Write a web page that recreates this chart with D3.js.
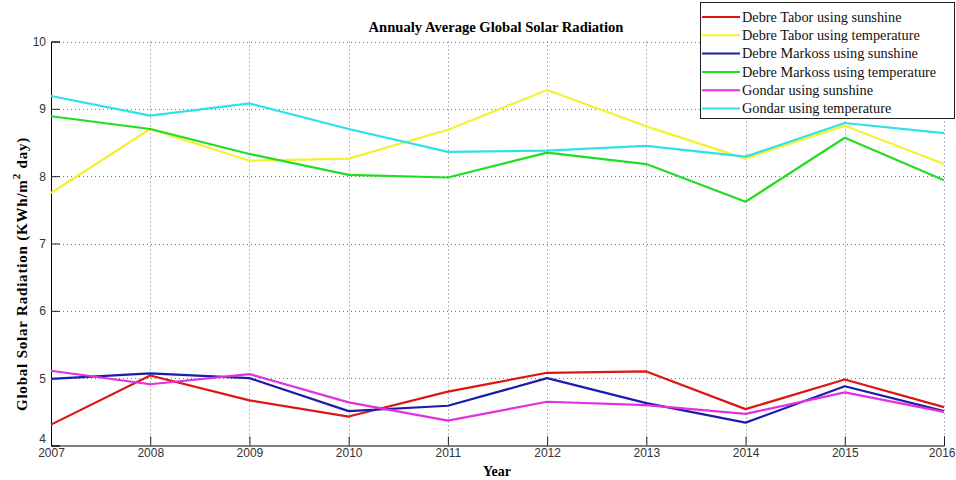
<!DOCTYPE html>
<html><head><meta charset="utf-8">
<script src="https://cdn.jsdelivr.net/npm/d3@7"></script>
<style>body{margin:0;background:#fff}svg{display:block}</style>
</head><body>
<script>
const years = [2007,2008,2009,2010,2011,2012,2013,2014,2015,2016];
const yTicks = [4,5,6,7,8,9,10];
const seriesNames = ["Debre Tabor using sunshine","Debre Tabor using temperature","Debre Markoss using sunshine","Debre Markoss using temperature","Gondar using sunshine","Gondar using temperature"];
const seriesColors = ["#dd1515","#f2f230","#1c1ca8","#22dd22","#e030e0","#30e0e8"];
const debreTaborSunshine = [4.31,5.04,4.67,4.43,4.80,5.08,5.10,4.54,4.98,4.57];
const debreTaborTemperature = [7.75,8.70,8.23,8.26,8.69,9.28,8.74,8.26,8.75,8.18];
const debreMarkossSunshine = [4.99,5.07,5.00,4.51,4.59,5.00,4.63,4.34,4.88,4.51];
const debreMarkossTemperature = [8.89,8.70,8.33,8.02,7.98,8.35,8.18,7.62,8.57,7.94];
const gondarSunshine = [5.11,4.91,5.06,4.64,4.37,4.65,4.60,4.47,4.79,4.50];
const gondarTemperature = [9.19,8.90,9.08,8.70,8.36,8.38,8.45,8.29,8.79,8.64];
const seriesValues = [debreTaborSunshine,debreTaborTemperature,debreMarkossSunshine,debreMarkossTemperature,gondarSunshine,gondarTemperature];

const W=956,H=480, L=51,R=944,T=41.5,B=445.5;
const svg=d3.select("body").append("svg").attr("width",W).attr("height",H);
svg.append("rect").attr("width",W).attr("height",H).attr("fill","#fff");
const x=d3.scaleLinear().domain([2007,2016]).range([L,R]);
const y=d3.scaleLinear().domain([4,10]).range([B,T]);

// grid
const g=svg.append("g");
g.selectAll(".gx").data(years.slice(1)).join("line")
 .attr("x1",d=>Math.round(x(d))+0.5).attr("x2",d=>Math.round(x(d))+0.5).attr("y1",T).attr("y2",B)
 .attr("stroke","#777").attr("stroke-width",1).attr("stroke-dasharray","1,3");
g.selectAll(".gy").data(yTicks.slice(1)).join("line")
 .attr("x1",L).attr("x2",R).attr("y1",d=>Math.round(y(d))+0.5).attr("y2",d=>Math.round(y(d))+0.5)
 .attr("stroke","#777").attr("stroke-width",1).attr("stroke-dasharray","1,3");

// axes
const ax=d3.axisBottom(x).tickValues(years).tickFormat(d3.format("d")).tickSize(-9).tickPadding(4);
const gxA=svg.append("g").attr("transform",`translate(0,${B})`).call(ax);
const ay=d3.axisLeft(y).tickValues(yTicks).tickFormat(d3.format("d")).tickSize(-9).tickPadding(5);
const gyA=svg.append("g").attr("transform",`translate(${L},0)`).call(ay);
[gxA,gyA].forEach(a=>{
  a.select(".domain").attr("stroke","#000").attr("stroke-width",1);
  a.selectAll(".tick line").attr("stroke","#222");
  a.selectAll("text").attr("font-family","Liberation Sans, Arial, sans-serif").attr("font-size",12).attr("fill","#333");
});
gxA.selectAll(".tick text").attr("dy","0.6em");
gxA.selectAll(".tick text").filter(d=>d===2016).attr("text-anchor","end").attr("x",11);
gyA.selectAll(".tick text").filter(d=>d===4).attr("dy","-0.25em");

// lines
const line=d3.line().x((d,i)=>x(years[i])).y(d=>y(d));
svg.append("g").selectAll("path").data(seriesValues).join("path")
 .attr("d",d=>line(d)).attr("fill","none")
 .attr("stroke",(d,i)=>seriesColors[i]).attr("stroke-width",2.2).attr("stroke-linejoin","round");

// title & labels
const serif="Liberation Serif, Times New Roman, serif";
svg.append("text").attr("x",496).attr("y",32).attr("text-anchor","middle")
 .attr("font-family",serif).attr("font-weight","bold").attr("font-size",14.6).text("Annualy Average Global Solar Radiation");
svg.append("text").attr("x",497).attr("y",476).attr("text-anchor","middle")
 .attr("font-family",serif).attr("font-weight","bold").attr("font-size",14).text("Year");
const yl=svg.append("text").attr("transform","translate(27,274) rotate(-90)").attr("text-anchor","middle")
 .attr("font-family",serif).attr("font-weight","bold").attr("font-size",15).attr("letter-spacing",0.8);
yl.append("tspan").text("Global Solar Radiation (KWh/m");
yl.append("tspan").attr("dy",-7).attr("font-size",11).text("2");
yl.append("tspan").attr("dy",7).text(" day)");

// legend
const lg=svg.append("g");
lg.append("rect").attr("x",700.5).attr("y",2.5).attr("width",254).attr("height",116)
 .attr("fill","#fff").attr("stroke","#222").attr("stroke-width",1);
const rows=lg.selectAll("g.row").data(seriesNames).join("g")
 .attr("transform",(d,i)=>`translate(0,${17+i*18.3})`);
rows.append("line").attr("x1",702).attr("x2",740).attr("y1",0).attr("y2",0)
 .attr("stroke",(d,i)=>seriesColors[i]).attr("stroke-width",2);
rows.append("text").attr("x",742).attr("y",4.8).attr("font-family",serif).attr("font-size",14.3).attr("fill","#111").text(d=>d);
</script>
</body></html>
